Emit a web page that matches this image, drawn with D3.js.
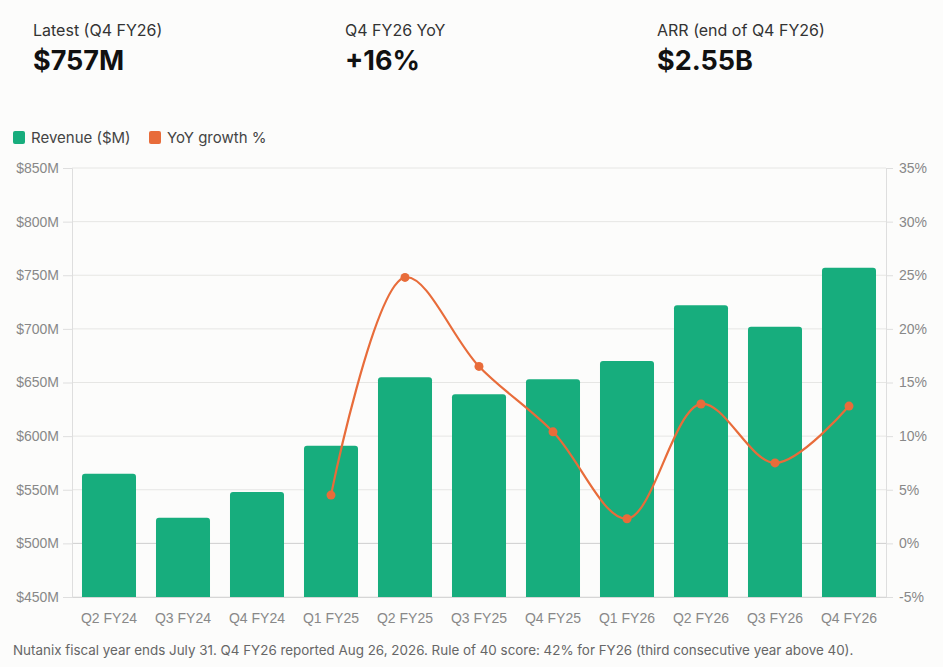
<!DOCTYPE html>
<html>
<head>
<meta charset="utf-8">
<script src="https://d3js.org/d3.v7.min.js"></script>
<style>
  body { margin: 0; background: #fcfcfb; }
  .kpi-label { font-family: Inter, "Noto Sans", sans-serif; font-size: 16px; fill: #333; }
  .kpi-value { font-family: Inter, "Noto Sans", sans-serif; font-size: 27px; font-weight: 700; fill: #111; }
  .legend { font-family: Inter, "Noto Sans", sans-serif; font-size: 15px; fill: #444; }
  .tick text { font-family: "Liberation Sans", Arial, sans-serif; font-size: 14px; fill: #888; }
  .footer { font-family: Inter, "Noto Sans", sans-serif; font-size: 13.4px; fill: #666; }
</style>
</head>
<body>
<div id="chart"></div>
<script>
// data
const quarters = ["Q2 FY24", "Q3 FY24", "Q4 FY24", "Q1 FY25", "Q2 FY25", "Q3 FY25",
                  "Q4 FY25", "Q1 FY26", "Q2 FY26", "Q3 FY26", "Q4 FY26"];
const revenue = [565, 524, 548, 591, 655, 639, 653, 670, 722, 702, 757];
const yoyGrowth = [null, null, null, 4.5, 24.8, 16.5, 10.4, 2.3, 13.0, 7.5, 12.8];
const revTicks = [450, 500, 550, 600, 650, 700, 750, 800, 850];
const pctTicks = [-5, 0, 5, 10, 15, 20, 25, 30, 35];
const kpiLabels = ["Latest (Q4 FY26)", "Q4 FY26 YoY", "ARR (end of Q4 FY26)"];
const kpiValues = ["$757M", "+16%", "$2.55B"];
const legendItems = ["Revenue ($M)", "YoY growth %"];
const footNote = "Nutanix fiscal year ends July 31. Q4 FY26 reported Aug 26, 2026. Rule of 40 score: 42% for FY26 (third consecutive year above 40).";

const width = 943, height = 667;
const margin = {top: 168, right: 57, bottom: 70, left: 72};
const green = "#17ad7d", orange = "#e86c3a";

const svg = d3.select("#chart").append("svg")
    .attr("width", width)
    .attr("height", height);

svg.append("rect").attr("width", width).attr("height", height).attr("fill", "#fcfcfb");

// KPI header
const kpi = svg.selectAll("g.kpi")
  .data(kpiLabels)
  .join("g")
    .attr("class", "kpi")
    .attr("transform", (d, i) => `translate(${33 + i * 312}, 0)`);
kpi.append("text").attr("class", "kpi-label").attr("y", 36).text(d => d);
kpi.append("text").attr("class", "kpi-value").attr("y", 70).text((d, i) => kpiValues[i]);

// legend
const legendX = [13, 149];
const lg = svg.selectAll("g.lg")
  .data(legendItems)
  .join("g")
    .attr("transform", (d, i) => `translate(${legendX[i]}, 131)`);
lg.append("rect").attr("width", 12).attr("height", 13).attr("rx", 2)
    .attr("fill", (d, i) => i == 0 ? green : orange);
lg.append("text").attr("class", "legend").attr("x", 18).attr("y", 11.5).text(d => d);

const innerW = width - margin.left - margin.right;
const innerH = height - margin.top - margin.bottom;

const g = svg.append("g").attr("transform", `translate(${margin.left},${margin.top})`);

const x = d3.scaleBand()
    .domain(quarters)
    .range([0, innerW])
    .paddingInner(0.27)
    .paddingOuter(0.135);

const yRev = d3.scaleLinear().domain([450, 850]).range([innerH, 0]);
const yPct = d3.scaleLinear().domain([-5, 35]).range([innerH, 0]);

// gridlines
g.append("g")
  .selectAll("line")
  .data(revTicks)
  .join("line")
    .attr("x1", 0).attr("x2", innerW)
    .attr("y1", d => yRev(d)).attr("y2", d => yRev(d))
    .attr("stroke", d => d == 500 ? "#cfcfcf" : "#e6e6e4")
    .attr("stroke-width", 1);

// left axis
const leftAxis = g.append("g")
    .call(d3.axisLeft(yRev).tickValues(revTicks).tickFormat(d => "$" + d + "M").tickSize(9).tickPadding(4));
leftAxis.select(".domain").attr("stroke", "#dedede");
leftAxis.selectAll(".tick line").attr("stroke", "#dedede");

// right axis
const rightAxis = g.append("g")
    .attr("transform", `translate(${innerW},0)`)
    .call(d3.axisRight(yPct).tickValues(pctTicks).tickFormat(d => d + "%").tickSize(7).tickPadding(6));
rightAxis.select(".domain").attr("stroke", "#dedede");
rightAxis.selectAll(".tick line").attr("stroke", "#dedede");

// bottom axis
const bottomAxis = g.append("g")
    .attr("transform", `translate(0,${innerH})`)
    .call(d3.axisBottom(x).tickSize(0).tickPadding(16));
bottomAxis.select(".domain").attr("stroke", "#d6d6d6");
bottomAxis.selectAll(".tick text").attr("fill", "#7a7a7a");

// bars with rounded tops
const r = 3;
g.append("g")
  .selectAll("path")
  .data(revenue)
  .join("path")
    .attr("d", (d, i) => {
      const x0 = x(quarters[i]), w = x.bandwidth();
      const y0 = yRev(d), y1 = yRev(450);
      return `M${x0},${y1}V${y0 + r}Q${x0},${y0} ${x0 + r},${y0}H${x0 + w - r}Q${x0 + w},${y0} ${x0 + w},${y0 + r}V${y1}Z`;
    })
    .attr("fill", green);

// yoy line
const pts = yoyGrowth.map((v, i) => ({q: quarters[i], v: v})).filter(d => d.v != null);
const line = d3.line()
    .x(d => x(d.q) + x.bandwidth() / 2)
    .y(d => yPct(d.v))
    .curve(d3.curveCatmullRom.alpha(0.5));

g.append("path")
    .datum(pts)
    .attr("d", line)
    .attr("fill", "none")
    .attr("stroke", orange)
    .attr("stroke-width", 2.2);

g.append("g")
  .selectAll("circle")
  .data(pts)
  .join("circle")
    .attr("cx", d => x(d.q) + x.bandwidth() / 2)
    .attr("cy", d => yPct(d.v))
    .attr("r", 4.5)
    .attr("fill", orange);

// footer
svg.append("text").attr("class", "footer").attr("x", 13).attr("y", 655).text(footNote);
</script>
</body>
</html>
